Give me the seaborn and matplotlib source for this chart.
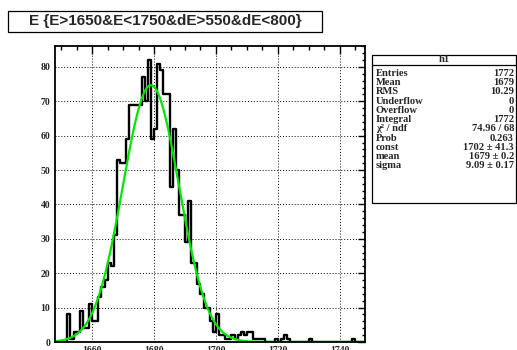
import numpy as np
import pandas as pd
import matplotlib
matplotlib.use("Agg")
import matplotlib.pyplot as plt
from matplotlib.patches import Rectangle
from matplotlib.lines import Line2D
from matplotlib.ticker import MultipleLocator
import seaborn as sns

# Histogram h1: counts per unit-width bin of E, starting at 1648
bin_low = 1648
bin_width = 1
counts = [0, 0, 0, 0, 8, 1, 3, 3, 9, 4,
          4, 11, 6, 6, 13, 16, 18, 23, 22, 31,
          53, 52, 52, 59, 69, 69, 69, 69, 77, 70,
          82, 59, 62, 81, 79, 72, 72, 45, 62, 50,
          37, 37, 29, 41, 23, 23, 17, 14, 10, 10,
          6, 3, 8, 2, 2, 1, 1, 2, 1, 2,
          3, 2, 3, 3, 1, 1, 1, 1, 0, 0,
          0, 1, 0, 1, 2, 1, 0, 0, 0, 0,
          0, 0, 1, 0, 0, 0, 0, 0, 0, 0,
          0, 0, 0, 0, 0, 0, 1, 0, 0, 0]

# Gaussian fit result (normalised gaussian: const = area)
fit_const = 1702.0
fit_mean = 1679.0
fit_sigma = 9.09

title_text = "E {E>1650&E<1750&dE>550&dE<800}"
stats_name = "h1"
stats_labels = ["Entries", "Mean", "RMS", "Underflow", "Overflow", "Integral",
                "\u03c7\u00b2 / ndf", "Prob", "const", "mean", "sigma"]
stats_values = ["1772", "1679", "10.29", "0", "0", "1772",
                "74.96 / 68", "0.263", "1702 \u00b1 41.3", "1679 \u00b1 0.2",
                "9.09 \u00b1 0.17"]

n_bins = len(counts)
edges = bin_low + bin_width * np.arange(n_bins + 1)
centers = edges[:-1] + bin_width / 2
hist_df = pd.DataFrame({"E": centers, "n": np.asarray(counts, dtype=float)})

xs = np.linspace(edges[0], edges[-1], 600)
fit_y = fit_const * bin_width / (np.sqrt(2 * np.pi) * fit_sigma) * \
    np.exp(-0.5 * ((xs - fit_mean) / fit_sigma) ** 2)
fit_df = pd.DataFrame({"E": xs, "f": fit_y})

sns.set_style("white")
W, H = 517, 350
fig = plt.figure(figsize=(W / 100, H / 100), dpi=100)
fig.patch.set_facecolor("white")

def fx(px):
    return px / W

def fy(py):
    return 1 - py / H

left, right, top, bottom = 55, 364.5, 46, 342
ax = fig.add_axes([fx(left), fy(bottom), fx(right - left), (bottom - top) / H])

sns.histplot(data=hist_df, x="E", weights="n", binwidth=bin_width,
             binrange=(float(edges[0]), float(edges[-1])), element="step",
             fill=False, color="black", linewidth=1.7, ax=ax, zorder=3)
sns.lineplot(data=fit_df, x="E", y="f", color="#00e600", linewidth=1.6,
             ax=ax, zorder=4)

ax.set_xlim(edges[0], edges[-1])
ax.set_ylim(0, 86.1)
ax.set_xlabel("")
ax.set_ylabel("")

ax.xaxis.set_major_locator(MultipleLocator(20))
ax.xaxis.set_minor_locator(MultipleLocator(5))
ax.yaxis.set_major_locator(MultipleLocator(10))
ax.yaxis.set_minor_locator(MultipleLocator(2))

ax.grid(True, which="major", color="black", linestyle=(0, (1, 2)), linewidth=0.7)
ax.set_axisbelow(True)

ax.tick_params(axis="both", which="both", direction="in", top=True, right=True,
               color="black", width=1.0)
ax.tick_params(axis="x", which="major", length=5.5, pad=3)
ax.tick_params(axis="x", which="minor", length=2.8)
ax.tick_params(axis="y", which="major", length=5, pad=3.5)
ax.tick_params(axis="y", which="minor", length=2.5)

for lab in ax.get_xticklabels() + ax.get_yticklabels():
    lab.set_fontfamily("Liberation Serif")
    lab.set_fontweight("bold")
    lab.set_fontsize(7)

for sp in ax.spines.values():
    sp.set_visible(True)
    sp.set_color("black")
    sp.set_linewidth(1.3)
    sp.set_zorder(5)

# Title box
fig.patches.append(Rectangle((fx(8), fy(32)), fx(314), 21 / H,
                             transform=fig.transFigure, facecolor="white",
                             edgecolor="black", linewidth=0.9))
fig.text(fx(165), fy(21.5), title_text, ha="center", va="center",
         fontfamily="Liberation Sans", fontweight="bold", fontsize=11)

# Statistics box
bx0, bx1, by0, by1 = 372, 516, 55, 203
fig.patches.append(Rectangle((fx(bx0), fy(by1)), fx(bx1 - bx0), (by1 - by0) / H,
                             transform=fig.transFigure, facecolor="white",
                             edgecolor="black", linewidth=0.9))
fig.lines.append(Line2D([fx(bx0), fx(bx1)], [fy(65), fy(65)],
                        transform=fig.transFigure, color="black", linewidth=0.9))
stat_font = dict(fontfamily="Liberation Serif", fontweight="bold", fontsize=7.6)
fig.text(fx((bx0 + bx1) / 2), fy(60), stats_name, ha="center", va="center",
         **stat_font)
row_y = [73.3, 82.3, 91.7, 101.2, 110.4, 119.6, 128.8, 138.1, 147.3, 156.6, 165.9]
for lab, val, yy in zip(stats_labels, stats_values, row_y):
    fig.text(fx(376), fy(yy), lab, ha="left", va="center", **stat_font)
    fig.text(fx(514), fy(yy), val, ha="right", va="center", **stat_font)

fig.savefig("out.png", dpi=100)
